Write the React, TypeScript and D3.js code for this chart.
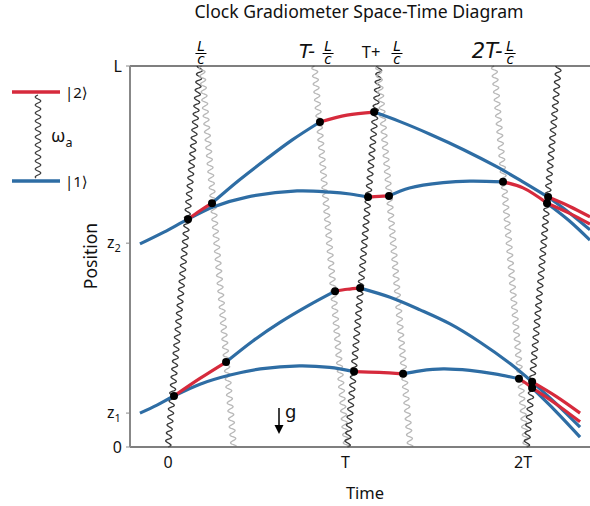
import React from "react";
import * as d3 from "d3";

const W = 590;
const H = 506;

// ---- axis values ----
const timeTicks = [0, 1, 2];
const timeTickLabels = ["0", "T", "2T"];
const posTicks = [0, 0.089, 0.535, 1];
const posTickNames = ["0", "z", "z", "L"];
const posTickSubs = ["", "1", "2", ""];

// ---- laser pulses (time in units of T, L/c light travel time) ----
const lightTime = 0.18;
const pulseEmit = [0, 0.19, 0.825, 1.01, 1.185, 1.837, 2.02];
const pulseFromBottom = [true, false, false, true, false, false, true];

// ---- atom trajectories [t, z/L] ----
const blueSegments: number[][][] = [
  [[-0.158, 0.089], [-0.062, 0.110], [0.034, 0.134], [0.18, 0.165], [0.35, 0.189], [0.52, 0.205], [0.74, 0.213], [0.91, 0.209], [1.048, 0.198]],
  [[1.324, 0.192], [1.42, 0.200], [1.55, 0.205], [1.70, 0.201], [1.84, 0.192], [1.977, 0.179]],
  [[0.327, 0.223], [0.48, 0.279], [0.631, 0.327], [0.79, 0.371], [0.941, 0.409]],
  [[1.082, 0.417], [1.251, 0.393], [1.42, 0.360], [1.589, 0.323], [1.758, 0.275], [1.927, 0.219], [2.051, 0.171]],
  [[-0.158, 0.533], [-0.023, 0.564], [0.113, 0.598], [0.254, 0.630], [0.445, 0.656], [0.727, 0.672], [0.913, 0.669], [1.025, 0.664], [1.127, 0.656]],
  [[1.245, 0.659], [1.36, 0.680], [1.55, 0.694], [1.70, 0.698], [1.887, 0.696]],
  [[0.248, 0.640], [0.40, 0.700], [0.552, 0.755], [0.70, 0.806], [0.856, 0.853]],
  [[1.161, 0.879], [1.307, 0.854], [1.476, 0.821], [1.662, 0.781], [1.854, 0.735], [2.006, 0.694], [2.141, 0.656]],
  [[2.051, 0.171], [2.186, 0.114], [2.321, 0.052]],
  [[2.051, 0.155], [2.186, 0.093], [2.321, 0.026]],
  [[2.141, 0.656], [2.26, 0.615], [2.377, 0.570]],
  [[2.135, 0.640], [2.26, 0.594], [2.377, 0.543]],
];

const redSegments: number[][][] = [
  [[0.034, 0.134], [0.18, 0.180], [0.327, 0.223]],
  [[0.941, 0.409], [1.01, 0.414], [1.082, 0.417]],
  [[1.048, 0.198], [1.19, 0.196], [1.324, 0.192]],
  [[1.977, 0.179], [2.015, 0.168], [2.051, 0.155]],
  [[0.113, 0.598], [0.18, 0.620], [0.248, 0.640]],
  [[0.856, 0.853], [1.008, 0.871], [1.161, 0.879]],
  [[1.127, 0.656], [1.19, 0.658], [1.245, 0.659]],
  [[1.887, 0.696], [2.0, 0.680], [2.135, 0.640]],
  [[2.051, 0.171], [2.186, 0.133], [2.321, 0.089]],
  [[2.051, 0.155], [2.186, 0.113], [2.321, 0.066]],
  [[2.141, 0.656], [2.26, 0.632], [2.377, 0.604]],
  [[2.135, 0.640], [2.26, 0.614], [2.377, 0.585]],
];

const pulseDots: number[][] = [
  [0.034, 0.134], [0.327, 0.223], [0.941, 0.409], [1.082, 0.417], [1.048, 0.198],
  [1.324, 0.192], [1.977, 0.179], [2.051, 0.171], [2.051, 0.155],
  [0.113, 0.598], [0.248, 0.640], [0.856, 0.853], [1.161, 0.879], [1.127, 0.656],
  [1.245, 0.659], [1.887, 0.696], [2.141, 0.656], [2.135, 0.640],
];

// ---- top time labels ----
const topLabelTimes = [0.18, 0.82, 1.18, 1.82];
const topLabelPrefixes = ["", "T-", "T+", "2T-"];

const RED = "#d62a3c";
const BLUE = "#2e6da4";
const DARK = "#383838";
const LIGHT = "#b8b8b8";
const FONT = "'Noto Sans', 'DejaVu Sans', sans-serif";
const MATH = "'DejaVu Sans', sans-serif";

function wavePath(x0: number, y0: number, x1: number, y1: number, amp = 2.8, period = 8) {
  const dx = x1 - x0;
  const dy = y1 - y0;
  const len = Math.hypot(dx, dy);
  const ux = dx / len;
  const uy = dy / len;
  const nx = -uy;
  const ny = ux;
  const pts: [number, number][] = [];
  for (let s = 0; s <= len; s += 0.5) {
    const o = amp * Math.sin((2 * Math.PI * s) / period);
    pts.push([x0 + ux * s + nx * o, y0 + uy * s + ny * o]);
  }
  return d3.line()(pts) || "";
}

const Fraction = ({ cx }: { cx: number }) => (
  <g fontFamily={MATH} fontStyle="italic" fontSize={13.5} textAnchor="middle" fill="#000">
    <text x={cx} y={51}>L</text>
    <line x1={cx - 5.5} x2={cx + 5.5} y1={53.5} y2={53.5} stroke="#000" strokeWidth={1} />
    <text x={cx} y={63.5}>c</text>
  </g>
);

export default function App() {
  const x = d3.scaleLinear().domain([-0.214, 2.377]).range([130, 590]);
  const y = d3.scaleLinear().domain([0, 1]).range([447, 66]);
  const line = d3
    .line<number[]>()
    .x((d) => x(d[0]))
    .y((d) => y(d[1]))
    .curve(d3.curveCatmullRom.alpha(0.5));

  // prefix right edge and fraction centre, relative to the label's time position
  const prefixLayout = [
    { prefixEnd: 0, fracDx: 1, size: 0 },
    { prefixEnd: 1.5, fracDx: 14.5, size: 19.5 },
    { prefixEnd: 3, fracDx: 19.5, size: 16.5 },
    { prefixEnd: 11.5, fracDx: 19, size: 21 },
  ];

  return (
    <svg width={W} height={H} style={{ position: "absolute", left: 0, top: 0, background: "#fff" }}>
      {/* title */}
      <text x={359} y={18} textAnchor="middle" fontFamily={FONT} fontSize={17.6} fill="#111">
        Clock Gradiometer Space-Time Diagram
      </text>

      {/* legend */}
      <line x1={12} x2={60} y1={92} y2={92} stroke={RED} strokeWidth={3.5} />
      <line x1={12} x2={60} y1={181} y2={181} stroke={BLUE} strokeWidth={3.5} />
      <path d={wavePath(38, 95, 38, 178)} fill="none" stroke={DARK} strokeWidth={1.2} />
      <text x={65} y={98} fontFamily={FONT} fontSize={15} fill="#111">|2⟩</text>
      <text x={65} y={187} fontFamily={FONT} fontSize={15} fill="#111">|1⟩</text>
      <text x={51} y={142} fontFamily={FONT} fontSize={18} fill="#111">
        ω<tspan fontSize={12.5} dy={5}>a</tspan>
      </text>

      {/* pulses */}
      {pulseEmit.map((t0, i) => {
        const up = pulseFromBottom[i];
        const x0 = x(t0);
        const x1 = x(t0 + lightTime);
        const d = up ? wavePath(x0, y(0), x1, y(1)) : wavePath(x0, y(1), x1, y(0));
        return <path key={"p" + i} d={d} fill="none" stroke={up ? DARK : LIGHT} strokeWidth={1.3} />;
      })}

      {/* spines */}
      <line x1={130} x2={590} y1={y(1)} y2={y(1)} stroke="#000" strokeWidth={1.2} />
      <line x1={130} x2={590} y1={y(0)} y2={y(0)} stroke="#555" strokeWidth={1.6} />
      <line x1={130} x2={130} y1={y(1)} y2={y(0)} stroke="#888" strokeWidth={2} />

      {/* y ticks */}
      {posTicks.map((v, i) => (
        <g key={"yt" + i}>
          <line x1={126} x2={130} y1={y(v)} y2={y(v)} stroke="#888" strokeWidth={1} />
          {posTickSubs[i] ? (
            <text x={107} y={y(v) + 4.5} fontFamily={FONT} fontSize={16} fill="#111">
              {posTickNames[i]}
              <tspan fontSize={11} dy={4}>{posTickSubs[i]}</tspan>
            </text>
          ) : (
            <text x={122} y={y(v) + 5.7} textAnchor="end" fontFamily={FONT} fontSize={16} fill="#111">
              {posTickNames[i]}
            </text>
          )}
        </g>
      ))}

      {/* x tick labels */}
      {timeTicks.map((v, i) => (
        <text key={"xt" + i} x={x(v)} y={468} textAnchor="middle" fontFamily={FONT} fontSize={16} fill="#111">
          {timeTickLabels[i]}
        </text>
      ))}

      {/* axis labels */}
      <text x={365} y={499} textAnchor="middle" fontFamily={FONT} fontSize={16.5} fill="#111">Time</text>
      <text transform="translate(97,256) rotate(-90)" textAnchor="middle" fontFamily={FONT} fontSize={17.5} fill="#111">
        Position
      </text>

      {/* top labels */}
      {topLabelTimes.map((t, i) => {
        const cx = x(t);
        const lay = prefixLayout[i];
        const pre = topLabelPrefixes[i];
        const italic = pre.startsWith("T-") || pre.startsWith("2T");
        return (
          <g key={"tl" + i}>
            {pre && (
              <text
                x={cx + lay.prefixEnd}
                y={57.5}
                textAnchor="end"
                fontFamily={italic ? MATH : FONT}
                fontStyle={italic ? "italic" : "normal"}
                fontSize={lay.size}
                fill="#111"
              >
                {pre}
              </text>
            )}
            <Fraction cx={cx + lay.fracDx} />
          </g>
        );
      })}

      {/* gravity arrow */}
      <line x1={279} x2={279} y1={408} y2={427} stroke="#000" strokeWidth={1.5} />
      <path d="M274.5,425 L283.5,425 L279,434 Z" fill="#000" />
      <text x={285} y={418} fontFamily={MATH} fontSize={18} fill="#111">g</text>

      {/* trajectories */}
      {blueSegments.map((s, i) => (
        <path key={"b" + i} d={line(s) || ""} fill="none" stroke={BLUE} strokeWidth={3.2} strokeLinecap="butt" />
      ))}
      {redSegments.map((s, i) => (
        <path key={"r" + i} d={line(s) || ""} fill="none" stroke={RED} strokeWidth={3.2} strokeLinecap="butt" />
      ))}
      {pulseDots.map((p, i) => (
        <circle key={"d" + i} cx={x(p[0])} cy={y(p[1])} r={4} fill="#000" />
      ))}
    </svg>
  );
}
